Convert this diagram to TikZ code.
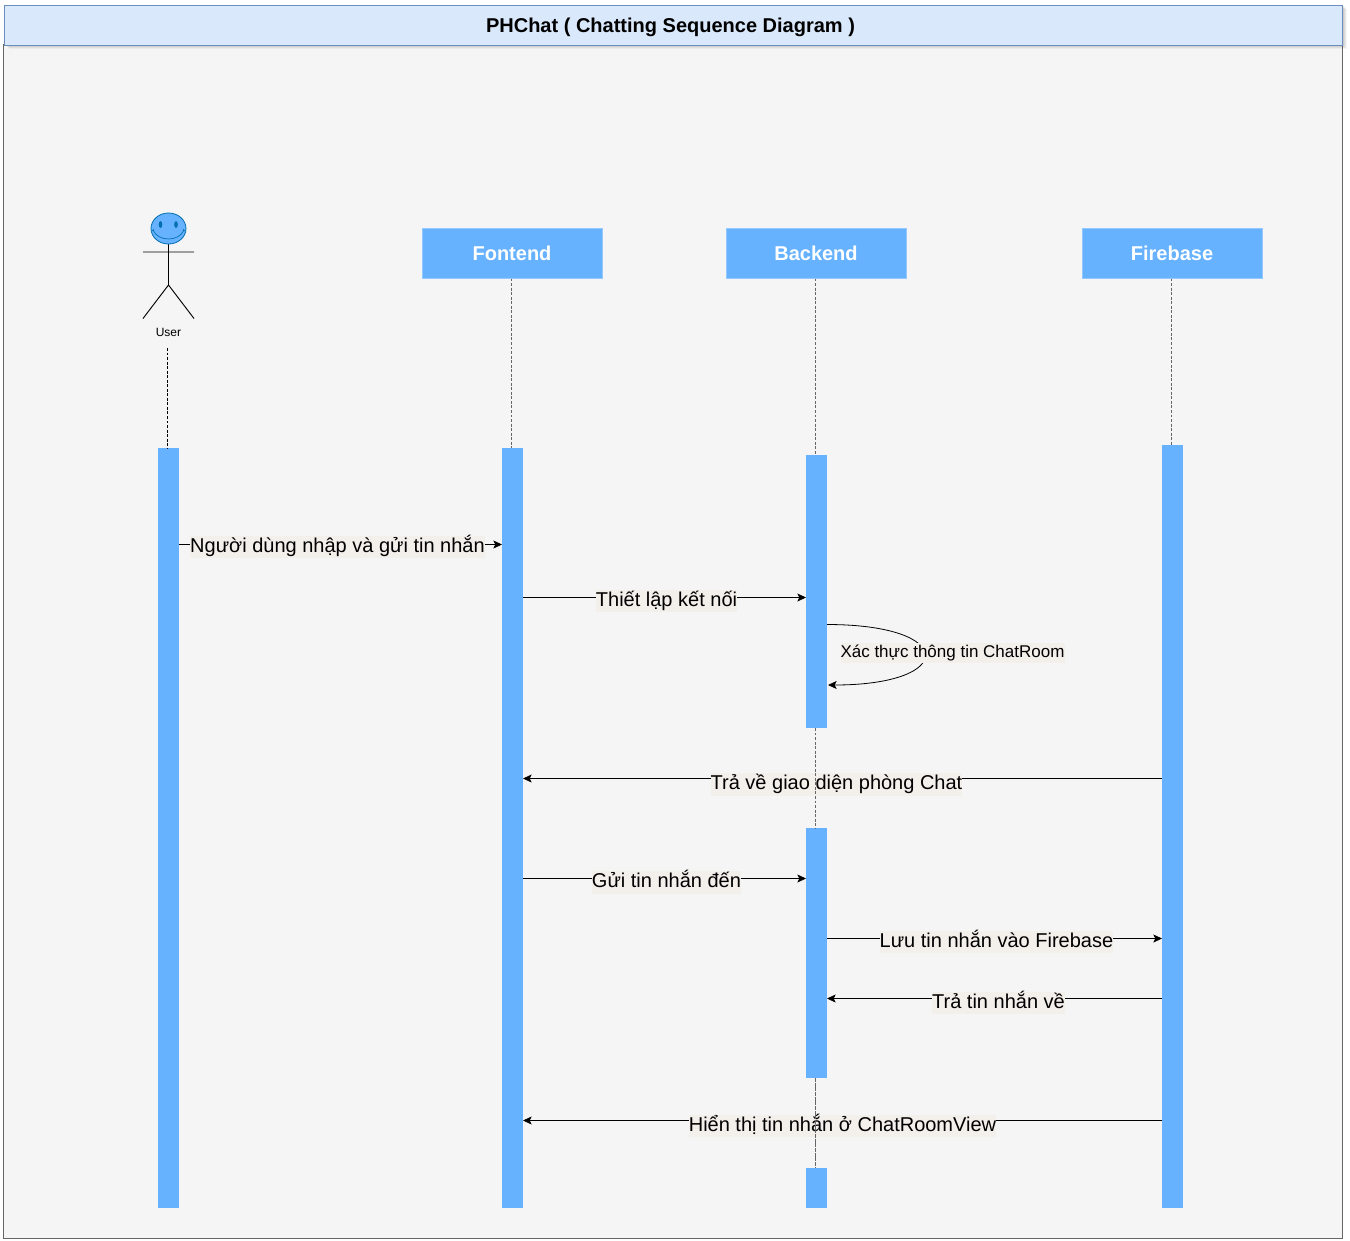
\documentclass[tikz,border=0pt]{standalone}
\usepackage{fontspec}
\setmainfont{Liberation Sans}
\usetikzlibrary{arrows.meta,positioning}
\definecolor{barblue}{HTML}{66B2FF}
\definecolor{titlefill}{HTML}{DAE8FC}
\definecolor{titleline}{HTML}{6C8EBF}
\definecolor{panelfill}{HTML}{F5F5F5}
\definecolor{panelline}{HTML}{666666}
\definecolor{labelbg}{HTML}{F3EFEB}
\definecolor{headline}{HTML}{006EAF}
\tikzset{
  bar/.style={fill=barblue,draw=none,minimum width=21*0.75pt,inner sep=0pt,outer sep=0pt},
  headbox/.style={fill=barblue,draw=barblue!70!white,line width=0.6pt,minimum width=180*0.75pt,minimum height=50*0.75pt,inner sep=0pt,outer sep=0pt,text=white,font=\bfseries\fontsize{15}{18}\selectfont},
  msg/.style={-{Stealth[length=6.5pt,width=6pt,inset=1.5pt]},draw=black,line width=0.6pt},
  msglabel/.style={fill=labelbg,inner sep=0pt,font=\fontsize{15}{18}\selectfont,text height=12.5pt,text depth=4.5pt},
  life/.style={dash pattern=on 2.2pt off 1.2pt,draw=panelline,line width=0.5pt},
  stick/.style={draw=black,line width=0.7pt},
}
\begin{document}
\begin{tikzpicture}[x=0.75pt,y=-0.75pt]
\useasboundingbox (0,0) rectangle (1350,1240);
\fill[white] (0,0) rectangle (1350,1240);
% panel
\node[draw=panelline,fill=panelfill,line width=0.7pt,minimum width=1339*0.75pt,minimum height=1193.5*0.75pt,inner sep=0pt,anchor=north west] (panel) at (3,44) {};
% title shadow
\foreach \o/\a in {2/0.07,3/0.06,4/0.05,5/0.04}{
  \fill[black,opacity=\a] (4+\o,4+\o) rectangle (1342+\o,44+\o);
}
\node[draw=titleline,fill=titlefill,line width=0.8pt,minimum width=1338*0.75pt,minimum height=40*0.75pt,inner sep=0pt,anchor=north west] (title) at (4,4.5) {};
\node[inner sep=0pt,font=\bfseries\fontsize{15}{18}\selectfont] (titleText) at (670.5,27) {PHChat ( Chatting Sequence Diagram )};
% headers
\node[headbox] (fe) at (512,253.5) {\raisebox{-0.4pt}{Fontend}};
\node[headbox] (be) at (816,253.5) {\raisebox{-0.4pt}{Backend}};
\node[headbox] (fb) at (1172,253.5) {\raisebox{-0.4pt}{Firebase}};
% actor
\draw[stick] (168.5,243) -- (168.5,285) (143,252) -- (194,252) (143,318.5) -- (168.5,285) -- (194,318.5);
\draw[fill=barblue,draw=headline,line width=0.6pt] (168.5,228.5) ellipse [x radius=17.5,y radius=15.5];
\fill[headline] (160.5,224.5) ellipse [x radius=1.8,y radius=3.4];
\fill[headline] (176,224.5) ellipse [x radius=1.8,y radius=3.4];
\draw[headline,line width=0.5pt] (153,230) .. controls (158,242) and (179,242) .. (184,230);
\draw[headline,line width=0.5pt] (152,231) -- (154,229) (185,231) -- (183,229);
\node[inner sep=0pt,font=\fontsize{9}{11}\selectfont] (user) at (168.5,332.5) {User};
% activation bars
\node[bar,minimum height=760*0.75pt] (uBar) at (168.5,828) {};
\node[bar,minimum height=760*0.75pt] (feBar) at (512.5,828) {};
\node[bar,minimum height=273*0.75pt] (beA) at (816.5,591.5) {};
\node[bar,minimum height=250*0.75pt] (beB) at (816.5,953) {};
\node[bar,minimum height=40*0.75pt] (beC) at (816.5,1188) {};
\node[bar,minimum height=763*0.75pt] (fbBar) at (1172.5,826.5) {};
% message rows
\coordinate (m1) at (0,544.5);
\coordinate (m2) at (0,597.5);
\coordinate (m4) at (0,778.5);
\coordinate (m5) at (0,878.5);
\coordinate (m6) at (0,938.5);
\coordinate (m7) at (0,998.5);
\coordinate (m8) at (0,1120.5);
\coordinate (loopA) at (827,624.5);
\coordinate (loopB) at (828,685);
% connectors
\draw[msg] (uBar.east |- m1) -- (feBar.west |- m1);
\draw[msg] (feBar.east |- m2) -- (beA.west |- m2);
\draw[msg] (loopA) .. controls (957,624.5) and (957,685) .. (loopB);
\draw[msg] (fbBar.west |- m4) -- (feBar.east |- m4);
\draw[msg] (feBar.east |- m5) -- (beB.west |- m5);
\draw[msg] (beB.east |- m6) -- (fbBar.west |- m6);
\draw[msg] (fbBar.west |- m7) -- (beB.east |- m7);
\draw[msg] (fbBar.west |- m8) -- (feBar.east |- m8);
% labels
\node[msglabel] (t1) at (337.5,547) {Người dùng nhập và gửi tin nhắn};
\node[msglabel] (t2) at (666.5,601) {Thiết lập kết nối};
\node[msglabel,font=\fontsize{12.75}{15}\selectfont,text height=11pt,text depth=4pt] (t3) at (952.5,652.5) {Xác thực thông tin ChatRoom};
\node[msglabel] (t4) at (836.5,784.5) {Trả về giao diện phòng Chat};
\node[msglabel] (t5) at (666.5,882.5) {Gửi tin nhắn đến};
\node[msglabel] (t6) at (996.5,942) {Lưu tin nhắn vào Firebase};
\node[msglabel] (t7) at (998.5,1003) {Trả tin nhắn về};
\node[msglabel] (t8) at (842.5,1126) {Hiển thị tin nhắn ở ChatRoomView};
% lifelines
\coordinate (uTop) at (167.5,348);
\coordinate (feLife) at (511.5,0);
\coordinate (beLife) at (815.7,0);
\coordinate (fbLife) at (1171.5,0);
\draw[life,draw=black] (uTop) -- (uTop |- uBar.north);
\draw[life] (feLife |- fe.south) -- (feLife |- feBar.north);
\draw[life] (beLife |- be.south) -- (beLife |- beA.north);
\draw[life] (beLife |- beA.south) -- (beLife |- beB.north);
\draw[life,dash pattern=on 3pt off 0.5pt] (beLife |- beB.south) -- (beLife |- beC.north);
\draw[life] (fbLife |- fb.south) -- (fbLife |- fbBar.north);
\end{tikzpicture}
\end{document}
